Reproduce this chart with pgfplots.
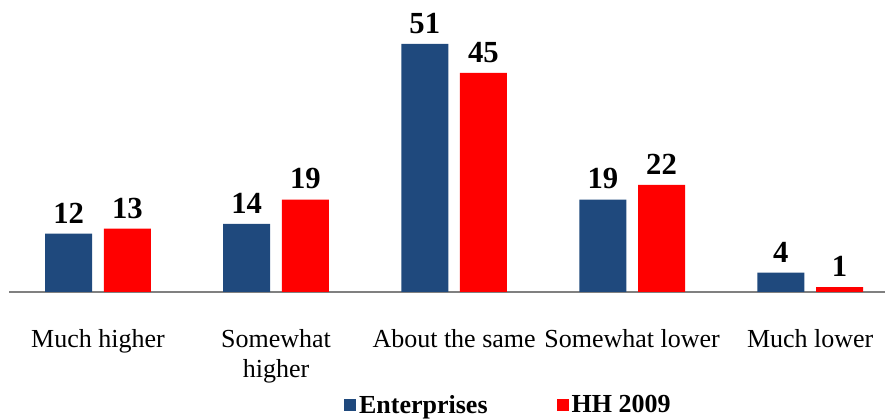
\documentclass[border=0pt]{standalone}
\usepackage{fontspec}
\setmainfont{Liberation Serif}
\usepackage{pgfplots}
\pgfplotsset{compat=1.18}
\definecolor{entblue}{HTML}{1F497D}
\definecolor{hhred}{HTML}{FF0000}
\begin{document}
\begin{tikzpicture}
\begin{axis}[
  scale only axis, width=657pt, height=219pt,
  xmin=-0.5, xmax=4.42, ymin=0, ymax=60,
  axis x line*=bottom, axis y line=none,
  x axis line style={draw=gray, line width=1.5pt},
  ytick=\empty,
  xtick={0,1,2,3,4},
  xticklabels={Much higher,{Somewhat\\higher},About the same,Somewhat lower,Much lower},
  xtick style={draw=none},
  xticklabel style={font=\fontsize{19.5}{22.5}\selectfont, align=center, anchor=north, yshift=-20pt},
  ybar, bar width=35.25pt,
  /pgf/number format/assume math mode=true,
  nodes near coords,
  nodes near coords style={font=\fontsize{23}{27}\selectfont\bfseries, inner sep=0pt, anchor=south, yshift=7.5pt, text=black},
  clip=false,
  legend style={at={(0.378,-0.387)}, anchor=west, draw=none, legend columns=2,
    font=\fontsize{19.5}{23}\selectfont\bfseries,
    /tikz/every even column/.append style={column sep=50pt}},
  legend image code/.code={\fill[#1] (0pt,-4.5pt) rectangle (9pt,4.5pt);},
]
\addplot[fill=entblue, draw=none, bar shift=-22pt] coordinates {(0,12)(1,14)(2,51)(3,19)(4,4)};
\addplot[fill=hhred, draw=none, bar shift=22pt] coordinates {(0,13)(1,19)(2,45)(3,22)(4,1)};
\legend{Enterprises, HH 2009}
\coordinate (bl) at (rel axis cs:0,0);
\coordinate (tr) at (rel axis cs:1,1);
\end{axis}
\pgfresetboundingbox
\useasboundingbox ([shift={(-6.75pt,-95.25pt)}]bl) rectangle (tr);
\end{tikzpicture}
\end{document}
